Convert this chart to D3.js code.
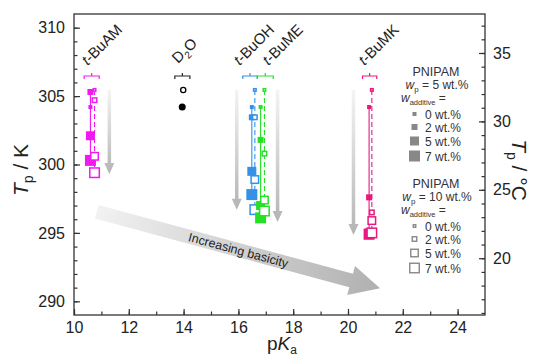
<!DOCTYPE html>
<html>
<head>
<meta charset="utf-8">
<script src="https://cdn.jsdelivr.net/npm/d3@7"></script>
<style>
  body { margin: 0; background: #fff; }
  text { font-family: "Liberation Sans", Arial, sans-serif; }
</style>
</head>
<body>
<svg id="chart"></svg>
<script>
const width = 537;
const height = 359;

// Data
const additives = ["t-BuAM", "t-BuOH", "t-BuME", "t-BuMK"];
const colors = ["#f01af0", "#3590e6", "#26e026", "#e8187e"];
const wtPercent = [0, 2, 5, 7];
const pKaFilled = [10.6, 16.49, 16.81, 20.77];
const pKaOpen = [10.75, 16.6, 16.95, 20.87];
// wp = 5 wt.% (filled), per additive, wt% 0,2,5,7
const tpFilled = [
  [304.2, 305.3, 302.1, 300.3],
  [304.2, 303.45, 299.5, 297.8],
  [304.2, 301.8, 297.0, 296.1],
  [304.2, 297.6, 295.0, 294.9]
];
// wp = 10 wt.% (open)
const tpOpen = [
  [305.45, 304.7, 300.6, 299.4],
  [305.45, 303.45, 298.9, 296.7],
  [305.45, 300.8, 297.4, 296.6],
  [305.45, 296.5, 295.9, 295.0]
];
const d2oPKa = 13.95;
const d2oTp = [304.2, 305.45];
const markerSize = [4, 6, 9, 11];
const xMajor = [10, 12, 14, 16, 18, 20, 22, 24];
const yMajor = [290, 295, 300, 305, 310];
const cMajor = [20, 25, 30, 35];

const svg = d3.select("#chart").attr("width", width).attr("height", height);

const x = d3.scaleLinear().domain([10, 25]).range([74, 485]);
const y = d3.scaleLinear().domain([289, 311]).range([315, 14]);
const yC = d3.scaleLinear().domain([289 - 273.15, 311 - 273.15]).range([315, 14]);

const defs = svg.append("defs");
const vgrad = defs.append("linearGradient").attr("id", "vgrad")
  .attr("x1", 0).attr("y1", 0).attr("x2", 0).attr("y2", 1);
vgrad.append("stop").attr("offset", "0%").attr("stop-color", "#f4f4f4");
vgrad.append("stop").attr("offset", "100%").attr("stop-color", "#b4b4b4");
const dgrad = defs.append("linearGradient").attr("id", "dgrad")
  .attr("x1", 0).attr("y1", 0).attr("x2", 1).attr("y2", 0);
dgrad.append("stop").attr("offset", "0%").attr("stop-color", "#f2f2f2");
dgrad.append("stop").attr("offset", "100%").attr("stop-color", "#b0b0b0");

// arrow polygon in pixel space
function arrowPath(x0, y0, x1, y1, bw, hw, hl) {
  const dx = x1 - x0, dy = y1 - y0, len = Math.hypot(dx, dy);
  const ux = dx / len, uy = dy / len, nx = -uy, ny = ux;
  const bx = x1 - ux * hl, by = y1 - uy * hl;
  const p = [
    [x0 + nx * bw / 2, y0 + ny * bw / 2],
    [bx + nx * bw / 2, by + ny * bw / 2],
    [bx + nx * hw / 2, by + ny * hw / 2],
    [x1, y1],
    [bx - nx * hw / 2, by - ny * hw / 2],
    [bx - nx * bw / 2, by - ny * bw / 2],
    [x0 - nx * bw / 2, y0 - ny * bw / 2]
  ];
  return "M" + p.map(d => d.join(",")).join("L") + "Z";
}

// Vertical arrows
const vArrows = [
  { px: 11.29, top: 305.45, bottom: 299.3 },
  { px: 15.94, top: 305.45, bottom: 296.7 },
  { px: 17.43, top: 305.45, bottom: 295.8 },
  { px: 20.2, top: 305.45, bottom: 294.85 }
];
svg.selectAll(".varrow").data(vArrows).enter().append("path")
  .attr("d", d => arrowPath(x(d.px), y(d.top), x(d.px), y(d.bottom), 3.5, 10, 11))
  .attr("fill", "url(#vgrad)");

// Diagonal arrow
const diag = { x0: 10.83, y0: 296.55, x1: 21.17, y1: 290.95 };
const dx0 = x(diag.x0), dy0 = y(diag.y0), dx1 = x(diag.x1), dy1 = y(diag.y1);
const ang = Math.atan2(dy1 - dy0, dx1 - dx0) * 180 / Math.PI;
const dlen = Math.hypot(dx1 - dx0, dy1 - dy0);
const dg = svg.append("g").attr("transform", `translate(${dx0},${dy0}) rotate(${ang})`);
dg.append("path")
  .attr("d", arrowPath(0, 0, dlen, 0, 14, 30, 30))
  .attr("fill", "url(#dgrad)");
dg.append("text")
  .attr("x", dlen * 0.5).attr("y", 4.5)
  .attr("text-anchor", "middle")
  .attr("font-size", 12.5)
  .attr("fill", "#222")
  .text("Increasing basicity");

// Axes
function drawAxis(axis, transform) {
  return svg.append("g").attr("transform", transform).call(axis)
    .call(g => g.select(".domain").remove())
    .call(g => g.selectAll("line").attr("stroke", "#333").attr("stroke-width", 1.2))
    .call(g => g.selectAll("text").attr("font-size", 16).attr("fill", "#222")
      .attr("font-family", "'Liberation Sans', Arial, sans-serif"));
}
drawAxis(d3.axisBottom(x).tickValues(d3.range(10, 25, 1)).tickSize(-3.5).tickFormat(""), "translate(0,315)");
drawAxis(d3.axisBottom(x).tickValues(xMajor).tickSize(-6).tickPadding(7).tickFormat(d3.format("d")), "translate(0,315)");
drawAxis(d3.axisLeft(y).tickValues(d3.range(290, 311, 1)).tickSize(-3.5).tickFormat(""), "translate(74,0)");
drawAxis(d3.axisLeft(y).tickValues(yMajor).tickSize(-6).tickPadding(9).tickFormat(d3.format("d")), "translate(74,0)");
drawAxis(d3.axisRight(yC).tickValues(d3.range(16, 38, 1)).tickSize(-3.5).tickFormat(""), "translate(485,0)");
drawAxis(d3.axisRight(yC).tickValues(cMajor).tickSize(-6).tickPadding(8).tickFormat(d3.format("d")), "translate(485,0)");

svg.append("rect")
  .attr("x", 74).attr("y", 14).attr("width", 485 - 74).attr("height", 315 - 14)
  .attr("fill", "none").attr("stroke", "#333").attr("stroke-width", 1.3);

// Axis titles
svg.append("text")
  .attr("transform", "translate(28,170) rotate(-90)")
  .attr("text-anchor", "middle").attr("font-size", 21).attr("fill", "#222")
  .call(t => {
    t.append("tspan").attr("font-style", "italic").text("T");
    t.append("tspan").attr("font-size", 14).attr("dy", 5).text("p");
    t.append("tspan").attr("dy", -5).text(" / K");
  });
svg.append("text")
  .attr("transform", "translate(512,170) rotate(90)")
  .attr("text-anchor", "middle").attr("font-size", 21).attr("fill", "#222")
  .call(t => {
    t.append("tspan").attr("font-style", "italic").text("T");
    t.append("tspan").attr("font-size", 14).attr("dy", 5).text("p");
    t.append("tspan").attr("dy", -5).text(" / °C");
  });
svg.append("text")
  .attr("x", 282).attr("y", 350)
  .attr("text-anchor", "middle").attr("font-size", 19).attr("fill", "#222")
  .call(t => {
    t.append("tspan").text("p");
    t.append("tspan").attr("font-style", "italic").text("K");
    t.append("tspan").attr("font-size", 12).attr("dy", 4).text("a");
  });

// Brackets and labels
const brackets = [
  { x0: 10.37, x1: 10.92, color: colors[0] },
  { x0: 13.68, x1: 14.23, color: "#222" },
  { x0: 16.16, x1: 16.69, color: colors[1] },
  { x0: 16.69, x1: 17.27, color: colors[2] },
  { x0: 20.53, x1: 21.05, color: colors[3] }
];
svg.selectAll(".bracket").data(brackets).enter().append("path")
  .attr("d", d => {
    const a = x(d.x0), b = x(d.x1), m = (a + b) / 2, yy = 76;
    return `M${a},${yy + 3}V${yy}H${b}V${yy + 3}M${m},${yy}V${yy - 3}`;
  })
  .attr("fill", "none").attr("stroke", d => d.color).attr("stroke-width", 1.2);

const labels = [
  { name: "t-BuAM", px: 10.5 },
  { name: "t-BuOH", px: 16.05 },
  { name: "t-BuME", px: 17.1 },
  { name: "t-BuMK", px: 20.6 }
];
labels.forEach(l => {
  svg.append("text")
    .attr("transform", `translate(${x(l.px)},66) rotate(-45)`)
    .attr("font-size", 15).attr("fill", "#222")
    .call(t => {
      t.append("tspan").attr("font-style", "italic").text("t");
      t.append("tspan").text(l.name.slice(1));
    });
});
svg.append("text")
  .attr("transform", `translate(${x(13.8)},64) rotate(-45)`)
  .attr("font-size", 15).attr("fill", "#222")
  .call(t => {
    t.append("tspan").text("D");
    t.append("tspan").attr("font-size", 10).attr("dy", 4).text("2");
    t.append("tspan").attr("dy", -4).text("O");
  });

// D2O points
svg.append("circle").attr("cx", x(d2oPKa)).attr("cy", y(d2oTp[0])).attr("r", 3.5).attr("fill", "#000");
svg.append("circle").attr("cx", x(d2oPKa) + 1).attr("cy", y(d2oTp[1])).attr("r", 2.6)
  .attr("fill", "#fff").attr("stroke", "#000").attr("stroke-width", 1.3);

// Series
const line = d3.line().x(d => d[0]).y(d => d[1]);
additives.forEach((name, i) => {
  const g = svg.append("g");
  const fPts = wtPercent.map((w, j) => [x(pKaFilled[i]), y(tpFilled[i][j]), j]);
  const oPts = wtPercent.map((w, j) => [x(pKaOpen[i]), y(tpOpen[i][j]), j]);
  g.append("path").attr("d", line(fPts)).attr("fill", "none")
    .attr("stroke", colors[i]).attr("stroke-width", 1.1);
  g.append("path").attr("d", line(oPts)).attr("fill", "none")
    .attr("stroke", colors[i]).attr("stroke-width", 1.1).attr("stroke-dasharray", "5,3");
  g.selectAll(".f").data(fPts).enter().append("rect")
    .attr("x", d => d[0] - markerSize[d[2]] / 2).attr("y", d => d[1] - markerSize[d[2]] / 2)
    .attr("width", d => markerSize[d[2]]).attr("height", d => markerSize[d[2]])
    .attr("fill", colors[i]);
  g.selectAll(".o").data(oPts).enter().append("rect")
    .attr("x", d => d[0] - (markerSize[d[2]] - 1.5) / 2).attr("y", d => d[1] - (markerSize[d[2]] - 1.5) / 2)
    .attr("width", d => markerSize[d[2]] - 1.5).attr("height", d => markerSize[d[2]] - 1.5)
    .attr("fill", "#fff").attr("stroke", colors[i]).attr("stroke-width", 1.5);
});

// Legend
const legendColor = "#888";
const rowOffsets = [42, 55, 69, 84];
const lg = svg.append("g").attr("font-size", 12).attr("fill", "#333");
const legendGroups = [
  { wp: "5", top: 72, filled: true },
  { wp: "10", top: 184, filled: false }
];
legendGroups.forEach(gp => {
  lg.append("text").attr("x", 436).attr("y", gp.top + 4).attr("text-anchor", "middle")
    .attr("font-size", 12.5).text("PNIPAM");
  lg.append("text").attr("x", 437).attr("y", gp.top + 17).attr("text-anchor", "middle")
    .call(t => {
      t.append("tspan").attr("font-style", "italic").text("w");
      t.append("tspan").attr("font-size", 8).attr("dy", 3).text("p");
      t.append("tspan").attr("dy", -3).text(` = ${gp.wp} wt.%`);
    });
  lg.append("text").attr("x", 401).attr("y", gp.top + 30)
    .call(t => {
      t.append("tspan").attr("font-style", "italic").text("w");
      t.append("tspan").attr("font-size", 7.5).attr("dy", 3).text("additive");
      t.append("tspan").attr("dy", -3).text(" =");
    });
  wtPercent.forEach((w, j) => {
    const cy = gp.top + rowOffsets[j];
    const s = markerSize[j];
    if (gp.filled) {
      lg.append("rect").attr("x", 414.5 - s / 2).attr("y", cy - s / 2)
        .attr("width", s).attr("height", s).attr("fill", legendColor);
    } else {
      lg.append("rect").attr("x", 414.5 - (s - 1.5) / 2).attr("y", cy - (s - 1.5) / 2)
        .attr("width", s - 1.5).attr("height", s - 1.5)
        .attr("fill", "#fff").attr("stroke", legendColor).attr("stroke-width", 1.4);
    }
    lg.append("text").attr("x", 425).attr("y", cy + 4.5).text(`${w} wt.%`);
  });
});
</script>
</body>
</html>
